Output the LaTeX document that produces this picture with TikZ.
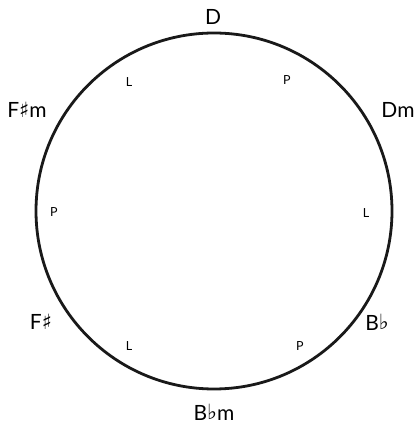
\documentclass[tikz,border=0pt]{standalone}
\usepackage{fontspec}
\setmainfont{Lato}
\newfontfamily\symfont{DejaVu Sans}
\newcommand{\shp}{{\symfont ♯}}
\newcommand{\flt}{{\symfont\raisebox{0.1ex}{♭}}}
\begin{document}
\begin{tikzpicture}[x=1pt,y=1pt,
  chord/.style={font=\fontsize{21}{21}\selectfont, inner sep=0pt},
  op/.style={font=\fontsize{12.5}{12.5}\selectfont, inner sep=0pt}]
\useasboundingbox (0,0) rectangle (420,426);
\draw[line width=2.8pt, black!90] (214,215) circle (178);
\node[chord] (D) at (213,409) {D};
\node[chord] (Dm) at (398,316) {Dm};
\node[chord] (Fsm) at (27,316) {F\shp m};
\node[chord] (Fs) at (41,104) {F\shp};
\node[chord] (Bb) at (377,104) {B\flt};
\node[chord] (Bbm) at (214,14) {B\flt m};
\node[op] (l1) at (129,344) {L};
\node[op] (p1) at (287,346) {P};
\node[op] (p2) at (54,214) {P};
\node[op] (l2) at (366,213) {L};
\node[op] (l3) at (129,80) {L};
\node[op] (p3) at (300,80) {P};
\end{tikzpicture}
\end{document}
